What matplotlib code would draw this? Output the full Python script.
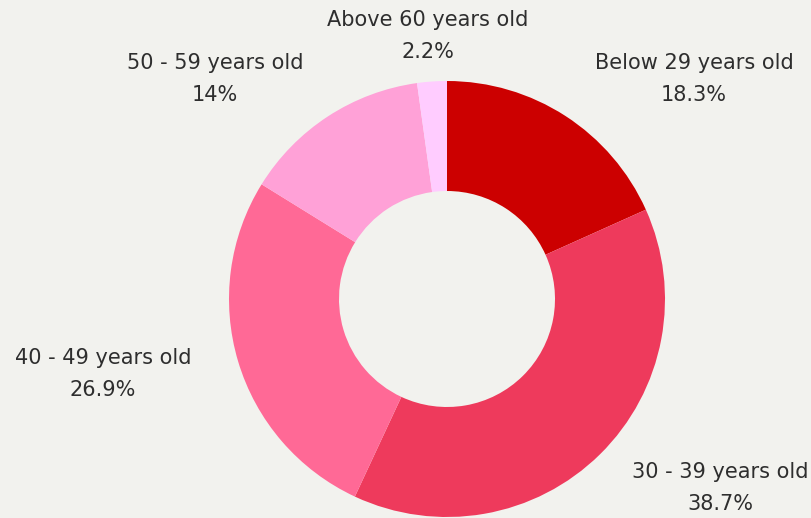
import matplotlib
matplotlib.use("Agg")
import matplotlib.pyplot as plt

# age groups and their share (%)
groups = ["Below 29 years old", "30 - 39 years old", "40 - 49 years old",
          "50 - 59 years old", "Above 60 years old"]
shares = [18.3, 38.7, 26.9, 14, 2.2]
colors = ["#CC0000", "#EE3A5C", "#FF6996", "#FFA1D7", "#FFCCFF"]

# where each label sits (pixel coords, origin bottom-left)
label_pos = [(694, 518 - 79), (720, 518 - 488), (103, 518 - 374),
             (215, 518 - 79), (428, 518 - 36)]

bg = "#F2F2EE"
fig = plt.figure(figsize=(8.11, 5.18), dpi=100, facecolor=bg)
ax = fig.add_axes([0, 0, 1, 1])
ax.set_facecolor(bg)

ax.pie(shares, colors=colors, startangle=90, counterclock=False,
       center=(447, 518 - 299), radius=218, frame=True,
       wedgeprops=dict(width=110, edgecolor="none"))
ax.set_xlim(0, 811)
ax.set_ylim(0, 518)
ax.set_aspect("equal")
ax.axis("off")

for name, val, (x, y) in zip(groups, shares, label_pos):
    ax.text(x, y, f"{name}\n{val:g}%", ha="center", va="center",
            fontsize=15, color="#2E2E2E", linespacing=1.7,
            family="DejaVu Sans")

fig.savefig("out.png", dpi=100, facecolor=bg)
